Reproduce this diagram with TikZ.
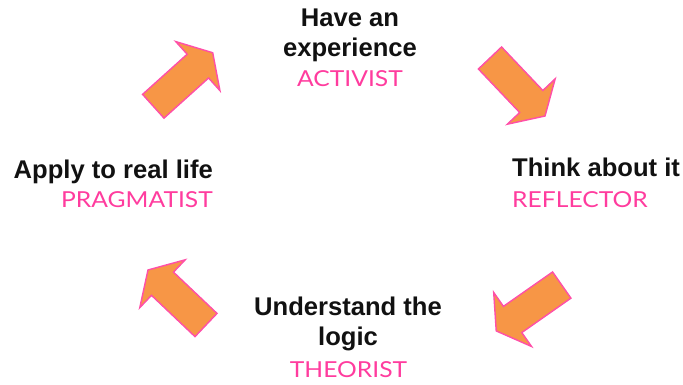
\documentclass[tikz,border=0pt]{standalone}
\usepackage{fontspec}
\usepackage{xcolor}
\usepackage{tikz}
\usetikzlibrary{calc}
\newfontfamily\stagefont{Liberation Sans}
\newfontfamily\rolefont[FakeStretch=1.12]{Lato}
\definecolor{ink}{HTML}{111111}
\definecolor{rose}{HTML}{FF3C9E}
\definecolor{roseline}{HTML}{FF4FA8}
\definecolor{tang}{HTML}{F79646}
\tikzset{
  stage/.style={text=ink, font=\stagefont\bfseries\fontsize{25.6}{30}\selectfont, inner sep=0pt, align=center},
  role/.style={text=rose, font=\rolefont\fontsize{22}{26}\selectfont, inner sep=0pt},
  body/.style={fill=tang, draw=roseline, line width=1.4pt, line join=miter},
}
% block arrow: centre, direction
\newcommand{\cyclearrow}[2]{%
  \draw[body, shift={#1}, rotate=#2]
    (-40,-16) -- (20,-16) -- (20,-33) -- (40,0) -- (20,33) -- (20,16) -- (-40,16) -- cycle;
}

\begin{document}
\begin{tikzpicture}[x=1pt,y=1pt]
  \useasboundingbox (0,0) rectangle (683,385);

  \cyclearrow{(183,305.5)}{42}
  \cyclearrow{(517.5,298)}{-46.5}
  \cyclearrow{(529,77)}{215}
  \cyclearrow{(177,87.5)}{136.5}

  \node[stage, anchor=north] (have) at (350,376) {Have an\\experience};
  \node[role, anchor=base] (activist) at (350,298) {ACTIVIST};

  \node[stage, anchor=north west] (think) at (512,227) {Think about it};
  \node[role, anchor=base west] (reflector) at (512,177) {REFLECTOR};

  \node[stage, anchor=north] (logic) at (348,88) {Understand the\\logic};
  \node[role, anchor=base] (theorist) at (348.5,7) {THEORIST};

  \node[stage, anchor=north east] (apply) at (213,225) {Apply to real life};
  \node[role, anchor=base east] (pragmatist) at (213,177) {PRAGMATIST};
\end{tikzpicture}
\end{document}
